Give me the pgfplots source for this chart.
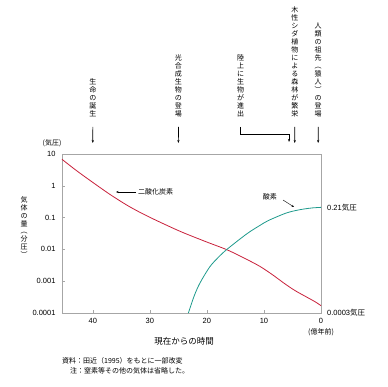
\documentclass[border=0pt]{standalone}
\usepackage{pgfplots}
\pgfplotsset{compat=1.18}
\usepackage{fontspec}
\setmainfont{Liberation Sans}
\newfontfamily\jp{Noto Sans CJK JP}
\usetikzlibrary{arrows.meta}
\definecolor{cored}{HTML}{C8203A}
\definecolor{oxteal}{HTML}{1E9A8C}
\begin{document}
\begin{tikzpicture}[x=1pt,y=1pt]
\path[use as bounding box] (0,0) rectangle (387,387);
\begin{axis}[
  at={(62pt,74pt)}, anchor=south west,
  scale only axis, width=259pt, height=159pt,
  xmin=0, xmax=45.4, x dir=reverse,
  ymode=log, ymin=1e-4, ymax=10,
  xtick={0,10,20,30,40},
  ytick={1e-4,1e-3,1e-2,1e-1,1,10},
  yticklabels={0.0001,0.001,0.01,0.1,1,10},
  xtick pos=bottom, ytick pos=left,
  tick align=inside, major tick length=3pt,
  tick style={gray!70, line width=0.5pt},
  axis line style={gray!70, line width=0.6pt},
  minor tick num=0, log basis y=10,
  tick label style={font=\fontsize{7.5}{9}\selectfont, /pgf/number format/assume math mode=true},
  yticklabel style={xshift=-3pt},
  xticklabel style={yshift=-2pt},
  clip=false,
]
\addplot[cored, line width=0.8pt, smooth] coordinates {
(45.4,6.81) (42.9,3.04) (39.9,1.24) (37.0,0.537) (34.1,0.251) (32.0,0.155)
(30.0,0.102) (27.0,0.0569) (24.2,0.0339) (20.0,0.0170) (16.5,0.00977) (13.5,0.00537)
(10.7,0.00292) (8.4,0.00155) (6.5,0.00087) (4.6,0.000513) (2.5,0.000316) (1.0,0.000224) (0,0.00017)
};
\addplot[oxteal, line width=0.8pt, smooth] coordinates {
(23.25,0.0001) (22.2,0.000355) (21.2,0.00089) (19.5,0.00282) (18.0,0.00562) (16.5,0.0100)
(13.0,0.0309) (10.7,0.0569) (9.2,0.0813) (6.3,0.135) (4.5,0.166) (3.0,0.186) (1.5,0.2018) (0,0.21)
};
\coordinate (a1) at (axis cs:40,10);
\coordinate (a2) at (axis cs:25,10);
\coordinate (a3) at (axis cs:14.1,10);
\coordinate (a3b) at (axis cs:5.6,10);
\coordinate (a4) at (axis cs:4.6,10);
\coordinate (a5) at (axis cs:0.5,10);
\coordinate (o21) at (axis cs:0,0.21);
\coordinate (o00) at (axis cs:0,0.0001);
\end{axis}
% top annotations (vertical Japanese text)
\tikzset{vt/.style={anchor=south, inner sep=0pt, align=center, font=\jp\fontsize{7}{8}\selectfont},
  ar/.style={-{Stealth[length=3pt,width=2.2pt]}, line width=0.7pt}}
\node[vt] at ([yshift=37pt]a1) {生\\命\\の\\誕\\生};
\draw[ar] (a1) ++(0.05,27) -- ++(-0.05,-16);
\node[vt] at ([yshift=37pt]a2) {光\\合\\成\\生\\物\\の\\登\\場};
\draw[ar] (a2) ++(0.05,27) -- ++(-0.05,-16);
\node[vt] at ([yshift=37pt]a3) {陸\\上\\に\\生\\物\\が\\進\\出};
\draw[ar] ([yshift=27pt]a3) -- ([yshift=20pt]a3) -- ([yshift=20pt]a3b) -- ([yshift=12pt]a3b);
\node[vt] at ([yshift=37pt]a4) {木\\性\\シ\\ダ\\植\\物\\に\\よ\\る\\森\\林\\が\\繁\\栄};
\draw[ar] (a4) ++(0.05,27) -- ++(-0.05,-16);
\node[vt] at ([yshift=37pt]a5) {人\\類\\の\\祖\\先\\︵\\猿\\人\\︶\\の\\登\\場};
\draw[ar] (a5) ++(0.05,27) -- ++(-0.05,-16);
% axis texts
\node[font=\jp\fontsize{7}{8}\selectfont, inner sep=0pt] at (52,244) {(気圧)};
\node[inner sep=0pt, align=center, font=\jp\fontsize{7}{7.8}\selectfont] at (24,160) {気\\体\\の\\量\\︵\\分\\圧\\︶};
\node[font=\jp\fontsize{8.5}{10}\selectfont, inner sep=0pt] at (184,46) {現在からの時間};
\node[font=\jp\fontsize{7}{8}\selectfont, inner sep=0pt] at (321,55) {(億年前)};
\node[anchor=west, inner sep=0pt, font=\fontsize{7.5}{9}\selectfont] at ([xshift=6pt]o21) {0.21{\jp 気圧}};
\node[anchor=west, inner sep=0pt, font=\fontsize{7.5}{9}\selectfont] at ([xshift=6pt]o00) {0.0003{\jp 気圧}};
% curve labels
\node[anchor=west, inner sep=0pt, font=\jp\fontsize{7}{8}\selectfont] at (138,195) {二酸化炭素};
\draw[-{Stealth[length=2.5pt,width=2pt]}, line width=0.4pt] (136,195) -- (116,195);
\node[anchor=east, inner sep=0pt, font=\jp\fontsize{7}{8}\selectfont] at (277,190) {酸素};
\draw[-{Stealth[length=2.5pt,width=2pt]}, line width=0.4pt] (283,187) -- (294,180);
% notes
\node[anchor=west, inner sep=0pt, font=\jp\fontsize{7}{8}\selectfont] at (62,26) {資料：田近（1995）をもとに一部改変};
\node[anchor=west, inner sep=0pt, font=\jp\fontsize{7}{8}\selectfont] at (70,16) {注：窒素等その他の気体は省略した。};
\end{tikzpicture}
\end{document}
